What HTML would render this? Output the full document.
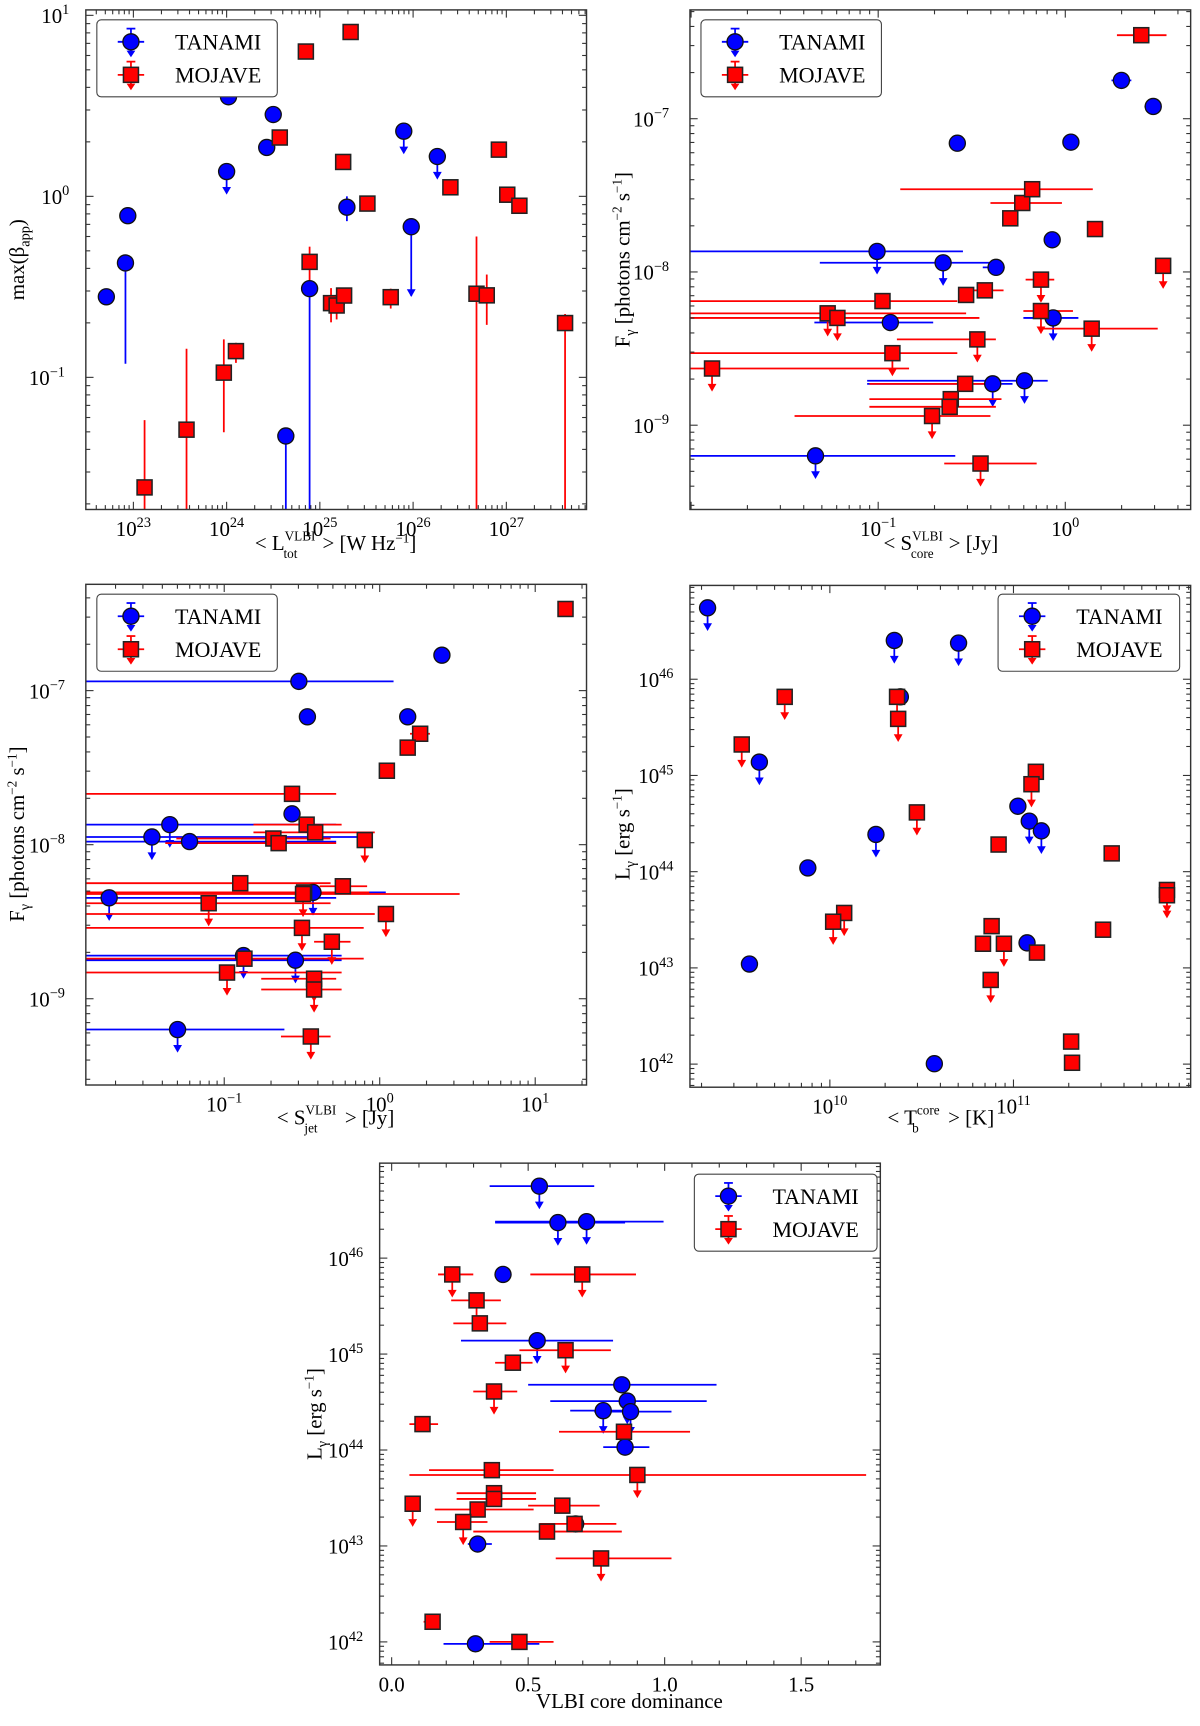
<!DOCTYPE html>
<html><head><meta charset="utf-8"><title>VLBI vs gamma-ray correlations</title>
<style>
html,body{margin:0;padding:0;background:#fff;}
svg{display:block;}
text{font-family:"Liberation Serif","DejaVu Serif",serif;fill:#000;}
</style></head>
<body>
<svg id="fig" xmlns="http://www.w3.org/2000/svg" width="1200" height="1726" viewBox="0 0 1090.5 1568.5"></svg>
<script>
// ===== Panel 1: max(beta_app) vs L_tot (log10 values) =====
const p1TanamiX = [22.71, 22.915, 22.94, 24.02, 24.0, 24.43, 24.50, 24.635, 24.89, 25.29, 25.90, 25.98, 26.26];
const p1TanamiY = [-0.555, -0.368, -0.107, 0.55, 0.137, 0.27, 0.452, -1.324, -0.51, -0.06, 0.36, -0.168, 0.22];
const p1TanamiUL = [0,0,0,0,1,0,0,0,0,0,1,1,1];
const p1TanamiYLo = [null, -0.925, null, null, null, null, null, -2.0, -2.0, -0.137, null, -0.55, null];
const p1TanamiYHi = [null, null, null, null, null, null, null, null, null, 0.0, null, null, null];
const p1MojaveX = [23.12, 23.57, 23.97, 24.10, 24.85, 24.57, 24.89, 25.12, 25.18, 25.26, 25.25, 25.33, 25.51, 25.76, 26.40, 26.92, 27.01, 27.14, 26.68, 26.79, 27.63];
const p1MojaveY = [-1.608, -1.289, -0.974, -0.855, 0.80, 0.325, -0.362, -0.59, -0.603, -0.548, 0.19, 0.908, -0.04, -0.557, 0.05, 0.258, 0.009, -0.052, -0.538, -0.547, -0.70];
const p1MojaveYLo = [-2.0, -2.0, -1.303, -0.92, null, null, -0.464, -0.696, -0.68, -0.60, null, null, null, -0.62, null, null, -0.02, null, -2.0, -0.71, -2.0];
const p1MojaveYHi = [-1.236, -0.842, -0.79, -0.809, null, null, -0.278, -0.507, -0.543, -0.523, null, null, null, -0.51, null, null, 0.03, null, -0.222, -0.432, -0.65];

// ===== Panel 2: F_gamma vs S_core (log10 values) =====
const p2TanamiX = [0.30, 0.47, -0.577, 0.03, -0.07, -0.37, -0.653, -1.006, -0.935, -0.065, -0.218, -0.388, -1.335];
const p2TanamiY = [-6.75, -6.92, -7.16, -7.153, -7.79, -7.97, -7.94, -7.866, -8.33, -8.30, -8.71, -8.73, -9.20];
const p2TanamiUL = [0,0,0,0,0,0,1,1,0,1,1,1,1];
const p2TanamiXLo = [0.247, 0.423, null, 0.0, null, -0.441, -1.312, -2.2, -1.341, -0.224, -1.059, -1.059, -2.2];
const p2TanamiXHi = [0.353, 0.512, null, 0.06, null, -0.324, -0.371, -0.547, -0.706, 0.07, -0.094, -0.282, -0.588];
const p2MojaveX = [0.406, -0.23, -0.294, -0.177, 0.159, 0.523, -0.13, -0.53, -0.43, -0.977, -1.27, -1.218, -0.13, 0.141, -0.47, -0.924, -1.888, -0.535, -0.612, -0.618, -0.712, -0.453];
const p2MojaveY = [-6.455, -7.55, -7.65, -7.46, -7.72, -7.96, -8.05, -8.15, -8.12, -8.19, -8.27, -8.30, -8.255, -8.37, -8.44, -8.53, -8.63, -8.73, -8.83, -8.88, -8.94, -9.25];
const p2MojaveUL = [0,0,0,0,0,1,1,0,0,0,1,1,1,1,1,1,1,0,0,0,1,1];
const p2MojaveXLo = [0.276, -0.40, null, -0.882, 0.12, null, -0.212, null, -0.518, -2.2, -2.2, -2.2, -0.224, -0.135, -0.90, -2.2, -2.2, -1.047, -1.047, -1.047, -1.447, -0.647];
const p2MojaveXHi = [0.541, -0.018, null, 0.147, 0.20, null, -0.059, null, -0.33, -0.577, -0.53, -0.459, 0.041, 0.494, -0.371, -0.577, -0.835, -0.341, -0.341, -0.371, -0.40, -0.153];

// ===== Panel 3: F_gamma vs S_jet (log10 values) =====
const p3TanamiX = [0.40, -0.52, -0.465, 0.18, -0.564, -1.35, -1.465, -1.223, -0.429, -1.74, -0.876, -0.542, -1.30];
const p3TanamiY = [-6.77, -6.94, -7.17, -7.17, -7.80, -7.87, -7.95, -7.98, -8.31, -8.345, -8.72, -8.75, -9.20];
const p3TanamiUL = [0,0,0,0,0,1,1,0,1,1,1,1,1];
const p3TanamiXLo = [null, -2.2, null, null, -0.60, -2.2, -2.2, -2.2, -1.202, -2.2, -2.2, -2.2, -2.2];
const p3TanamiXHi = [null, 0.089, null, null, -0.52, -0.28, -0.053, -0.28, 0.039, -0.28, -0.245, -0.245, -0.613];
const p3MojaveX = [1.195, 0.26, 0.18, 0.046, -0.564, -0.096, -0.47, -0.415, -0.684, -0.65, -0.486, -0.897, -1.10, -0.237, -0.493, 0.04, -0.50, -0.308, -0.87, -0.982, -0.422, -0.422, -0.443];
const p3MojaveY = [-6.47, -7.28, -7.37, -7.52, -7.67, -7.97, -7.87, -7.92, -7.96, -7.99, -8.31, -8.25, -8.38, -8.27, -8.32, -8.45, -8.54, -8.63, -8.74, -8.83, -8.87, -8.94, -9.245];
const p3MojaveUL = [0,0,0,0,0,1,0,0,0,0,0,0,1,0,1,1,1,1,0,1,1,1,1];
const p3MojaveXLo = [null, 0.195, null, null, -2.2, null, -0.812, -0.812, -1.308, -1.379, -2.2, -2.2, -2.2, -0.386, -2.2, -2.2, -2.2, -0.422, -2.2, -2.2, -0.762, -0.762, -0.635];
const p3MojaveXHi = [null, 0.323, null, null, -0.28, null, -0.245, -0.032, -0.316, -0.28, -0.067, -0.316, -0.316, -0.081, 0.514, -0.032, -0.103, -0.188, -0.103, -0.245, -0.28, -0.245, -0.316];

// ===== Panel 4: L_gamma vs T_b core (log10 values) =====
const p4TanamiX = [9.334, 10.351, 10.701, 10.384, 9.616, 11.024, 11.086, 11.152, 10.251, 9.88, 11.074, 9.562, 10.569];
const p4TanamiY = [46.742, 46.403, 46.376, 45.817, 45.139, 44.680, 44.525, 44.424, 44.387, 44.039, 43.26, 43.04, 42.004];
const p4TanamiUL = [1,1,1,0,1,0,1,1,1,0,0,0,0];
const p4MojaveX = [9.754, 10.366, 10.372, 9.52, 11.122, 11.098, 10.474, 10.919, 11.535, 10.078, 10.018, 10.881, 11.836, 11.836, 11.488, 10.834, 10.948, 11.128, 10.876, 11.314, 11.319];
const p4MojaveY = [45.817, 45.817, 45.588, 45.322, 45.038, 44.909, 44.616, 44.282, 44.19, 43.571, 43.48, 43.434, 43.81, 43.755, 43.397, 43.251, 43.251, 43.159, 42.875, 42.234, 42.014];
const p4MojaveUL = [1,1,1,1,0,1,1,0,0,1,1,0,1,1,0,0,1,0,1,0,0];

// ===== Panel 5: L_gamma vs VLBI core dominance (x linear, y log10) =====
const p5TanamiX = [0.541, 0.609, 0.714, 0.408, 0.533, 0.843, 0.863, 0.775, 0.875, 0.855, 0.674, 0.315, 0.307];
const p5TanamiY = [46.75, 46.37, 46.38, 45.83, 45.14, 44.68, 44.51, 44.41, 44.40, 44.03, 43.23, 43.02, 41.98];
const p5TanamiUL = [1,1,1,0,1,0,1,1,1,0,0,0,0];
const p5TanamiXLo = [0.359, 0.379, 0.379, null, 0.254, 0.50, 0.581, 0.654, 0.742, 0.775, null, 0.279, 0.19];
const p5TanamiXHi = [0.742, 0.855, 0.996, null, 0.811, 1.19, 1.154, 0.863, 1.025, 0.944, null, 0.367, 0.541];
const p5MojaveX = [0.222, 0.698, 0.311, 0.323, 0.637, 0.444, 0.375, 0.113, 0.851, 0.367, 0.90, 0.375, 0.375, 0.077, 0.625, 0.315, 0.262, 0.67, 0.569, 0.767, 0.150, 0.468];
const p5MojaveY = [45.83, 45.83, 45.56, 45.32, 45.04, 44.91, 44.61, 44.27, 44.19, 43.79, 43.74, 43.55, 43.49, 43.44, 43.42, 43.38, 43.25, 43.23, 43.15, 42.87, 42.21, 42.0];
const p5MojaveUL = [1,1,1,0,1,0,1,0,0,0,1,0,0,1,0,0,1,0,0,1,0,0];
const p5MojaveXLo = [0.17, 0.508, 0.218, 0.226, 0.468, 0.379, 0.299, 0.065, 0.613, 0.137, 0.065, 0.238, 0.238, null, 0.50, 0.158, 0.166, 0.541, 0.299, 0.601, 0.117, 0.359];
const p5MojaveXHi = [0.299, 0.895, 0.40, 0.42, 0.803, 0.516, 0.46, 0.17, 1.093, 0.593, 1.738, 0.529, 0.529, null, 0.762, 0.52, 0.351, 0.823, 0.843, 1.025, 0.178, 0.593];

const p5XTicks = [0.0, 0.5, 1.0, 1.5];
const p5XTickLabels = ["0.0", "0.5", "1.0", "1.5"];

const NS = 'http://www.w3.org/2000/svg';
const svg = document.getElementById('fig');
function mk(tag, attrs, parent) {
  const e = document.createElementNS(NS, tag);
  for (const k in attrs) e.setAttribute(k, attrs[k]);
  (parent || svg).appendChild(e);
  return e;
}
function fmtExp(n) { return (n < 0 ? '\u2212' + (-n) : '' + n); }

function makePanel(id, frame, xr, yr) {
  const [x0, y0, x1, y1] = frame;
  const g = mk('g', {});
  
  
  const sx = v => x0 + (v - xr[0]) / (xr[1] - xr[0]) * (x1 - x0);
  const sy = v => y1 - (v - yr[0]) / (yr[1] - yr[0]) * (y1 - y0);
  const clip = mk('clipPath', { id: id + '-clip' }, g);
  mk('rect', { x: x0, y: y0, width: x1 - x0, height: y1 - y0 }, clip);
  const plot = mk('g', { 'clip-path': 'url(#' + id + '-clip)' }, g);
  
  
  const marks = mk('g', {}, g);
  
  
  const frameRect = mk('rect', { x: x0, y: y0, width: x1 - x0, height: y1 - y0, fill: 'none', stroke: '#333', 'stroke-width': 1.3 }, g);
  
  
  return { g, plot, marks, sx, sy, frame, xr, yr };
}

function drawLogTicks(P, axis, labelled) {
  const [x0, y0, x1, y1] = P.frame;
  const r = axis === 'x' ? P.xr : P.yr;
  const eps = 0.02 * (r[1] - r[0]) / 5;
  const tg = mk('g', { stroke: '#333', 'stroke-width': 1 }, P.g);
  
  
  for (let d = Math.floor(r[0]); d <= Math.ceil(r[1]); d++) {
    for (let k = 1; k <= 9; k++) {
      const v = d + Math.log10(k);
      if (v < r[0] || v > r[1]) continue;
      const L = k === 1 ? 7 : 4;
      const showLabel = k === 1 && labelled && v > r[0] + eps && v < r[1] - eps;
      if (axis === 'x') {
        const x = P.sx(v);
        mk('line', { x1: x, x2: x, y1: y1, y2: y1 - L }, tg);
        mk('line', { x1: x, x2: x, y1: y0, y2: y0 + L }, tg);
        if (showLabel) {
          const t = mk('text', { x: x, y: y1 + 24, 'text-anchor': 'middle', 'font-size': 19 }, P.g);
          
          
          t.textContent = '10';
          const s = mk('tspan', { dy: -8, 'font-size': 13 }, t);
          s.textContent = fmtExp(d);
        }
      } else {
        const y = P.sy(v);
        mk('line', { x1: x0, x2: x0 + L, y1: y, y2: y }, tg);
        mk('line', { x1: x1, x2: x1 - L, y1: y, y2: y }, tg);
        if (showLabel) {
          const t = mk('text', { x: x0 - 5 - (d < 0 ? 14 : 10), y: y + 7, 'text-anchor': 'end', 'font-size': 19 }, P.g);
          
          
          t.textContent = '10';
          const s = mk('tspan', { dy: -8, 'font-size': 13 }, t);
          s.textContent = fmtExp(d);
        }
      }
    }
  }
}

function drawLinXTicks(P, ticks, labels) {
  const [x0, y0, x1, y1] = P.frame;
  const tg = mk('g', { stroke: '#333', 'stroke-width': 1 }, P.g);
  
  
  for (let i = 0; i <= 18; i++) {
    const v = i * 0.1;
    if (v < P.xr[0] || v > P.xr[1]) continue;
    const L = (i % 5 === 0) ? 7 : 4;
    const x = P.sx(v);
    mk('line', { x1: x, x2: x, y1: y1, y2: y1 - L }, tg);
    mk('line', { x1: x, x2: x, y1: y0, y2: y0 + L }, tg);
  }
  ticks.forEach((v, i) => {
    const t = mk('text', { x: P.sx(v), y: P.frame[3] + 24, 'text-anchor': 'middle', 'font-size': 19 }, P.g);
    
    
    t.textContent = labels[i];
  });
}

function series(P, name, X, Y, UL, xLo, xHi, yLo, yHi, color, shape) {
  X.forEach((xv, i) => {
    const px = P.sx(xv), py = P.sy(Y[i]);
    if (xLo && xLo[i] !== null) {
      const l = mk('line', { x1: P.sx(xLo[i]), x2: P.sx(xHi[i]), y1: py, y2: py, stroke: color, 'stroke-width': 1.6 }, P.plot);
      
      
    }
    let arrowEnd = null;
    if (yLo && yLo[i] !== null) {
      const lo = P.sy(yLo[i]);
      const hi = (yHi && yHi[i] !== null) ? P.sy(yHi[i]) : py;
      const l = mk('line', { x1: px, x2: px, y1: hi, y2: lo, stroke: color, 'stroke-width': 1.6 }, P.plot);
      
      
      if (UL && UL[i]) arrowEnd = lo;
    } else if (yHi && yHi[i] !== null) {
      const l = mk('line', { x1: px, x2: px, y1: P.sy(yHi[i]), y2: py, stroke: color, 'stroke-width': 1.6 }, P.plot);
      
      
    }
    if (UL && UL[i]) {
      if (arrowEnd === null) {
        arrowEnd = py + 20;
        const l = mk('line', { x1: px, x2: px, y1: py, y2: arrowEnd - 4, stroke: color, 'stroke-width': 1.6 }, P.plot);
        
        
      }
      const a = mk('polygon', { points: (px - 4) + ',' + (arrowEnd - 6) + ' ' + (px + 4) + ',' + (arrowEnd - 6) + ' ' + px + ',' + (arrowEnd + 1), fill: color }, P.plot);
      
      
    }
  });
  X.forEach((xv, i) => {
    const px = P.sx(xv), py = P.sy(Y[i]);
    let m;
    if (shape === 'circle') m = mk('circle', { cx: px, cy: py, r: 7.3, fill: color, stroke: '#111', 'stroke-width': 1.2 }, P.marks);
    else m = mk('rect', { x: px - 6.8, y: py - 6.8, width: 13.6, height: 13.6, fill: color, stroke: '#222', 'stroke-width': 1.4 }, P.marks);
    
    
  });
}

function legend(x, y, w, tag) {
  const g = mk('g', {});
  
  
  mk('rect', { x: x, y: y, width: w, height: 70, rx: 4, fill: '#fff', stroke: '#444', 'stroke-width': 1 }, g);
  const mx = x + 31;
  const e1 = mk('g', {}, g);
  
  
  mk('line', { x1: mx - 12, x2: mx + 12, y1: y + 20, y2: y + 20, stroke: '#0000ff', 'stroke-width': 1.6 }, e1);
  mk('line', { x1: mx, x2: mx, y1: y + 8, y2: y + 32, stroke: '#0000ff', 'stroke-width': 1.6 }, e1);
  mk('line', { x1: mx - 4, x2: mx + 4, y1: y + 8, y2: y + 8, stroke: '#0000ff', 'stroke-width': 1.6 }, e1);
  mk('polygon', { points: (mx - 4) + ',' + (y + 28) + ' ' + (mx + 4) + ',' + (y + 28) + ' ' + mx + ',' + (y + 34), fill: '#0000ff' }, e1);
  mk('circle', { cx: mx, cy: y + 20, r: 7.3, fill: '#0000ff', stroke: '#111', 'stroke-width': 1.2 }, e1);
  const t1 = mk('text', { x: x + 71, y: y + 27, 'font-size': 20 }, e1);
  t1.textContent = 'TANAMI';
  const e2 = mk('g', {}, g);
  
  
  mk('line', { x1: mx - 12, x2: mx + 12, y1: y + 50, y2: y + 50, stroke: '#ff0000', 'stroke-width': 1.6 }, e2);
  mk('line', { x1: mx, x2: mx, y1: y + 38, y2: y + 62, stroke: '#ff0000', 'stroke-width': 1.6 }, e2);
  mk('line', { x1: mx - 4, x2: mx + 4, y1: y + 38, y2: y + 38, stroke: '#ff0000', 'stroke-width': 1.6 }, e2);
  mk('polygon', { points: (mx - 4) + ',' + (y + 58) + ' ' + (mx + 4) + ',' + (y + 58) + ' ' + mx + ',' + (y + 64), fill: '#ff0000' }, e2);
  mk('rect', { x: mx - 6.8, y: y + 43.2, width: 13.6, height: 13.6, fill: '#ff0000', stroke: '#222', 'stroke-width': 1.4 }, e2);
  const t2 = mk('text', { x: x + 71, y: y + 57, 'font-size': 20 }, e2);
  t2.textContent = 'MOJAVE';
}

// parts: [text, dy, fontSize, dx]
function axisLabel(name, x, y, rot, parts) {
  const t = mk('text', { x: x, y: y, 'text-anchor': 'middle', 'font-size': 19, transform: rot ? 'rotate(-90 ' + x + ' ' + y + ')' : '' });
  
  
  parts.forEach(p => {
    const a = {};
    if (p[1]) a.dy = p[1];
    if (p[2]) a['font-size'] = p[2];
    if (p[3]) a.dx = p[3];
    const s = mk('tspan', a, t);
    s.textContent = p[0];
  });
}

// ---- Panel 1
const P1 = makePanel('panel-beta-vs-ltot', [78, 9, 533, 463], [22.49, 27.86], [-1.73, 1.03]);
drawLogTicks(P1, 'x', true); drawLogTicks(P1, 'y', true);
series(P1, 'tanami', p1TanamiX, p1TanamiY, p1TanamiUL, null, null, p1TanamiYLo, p1TanamiYHi, '#0000ff', 'circle');
series(P1, 'mojave', p1MojaveX, p1MojaveY, null, null, null, p1MojaveYLo, p1MojaveYHi, '#ff0000', 'square');
legend(88, 18, 164, 'panel1');
axisLabel('p1-y-axis-title', 22, 236, true, [['max(β'], ['app', 5, 13], [')', -5, 19]]);
axisLabel('p1-x-axis-title', 305, 500, false, [['< L'], ['VLBI', -9, 12], ['tot', 16, 12, -29], [' > [W Hz', -7, 19, 18], ['−1', -7, 12], [']', 7, 19]]);

// ---- Panel 2
const P2 = makePanel('panel-fgamma-vs-score', [627, 9, 1082, 463], [-2.006, 0.67], [-9.55, -6.29]);
drawLogTicks(P2, 'x', true); drawLogTicks(P2, 'y', true);
series(P2, 'tanami', p2TanamiX, p2TanamiY, p2TanamiUL, p2TanamiXLo, p2TanamiXHi, null, null, '#0000ff', 'circle');
series(P2, 'mojave', p2MojaveX, p2MojaveY, p2MojaveUL, p2MojaveXLo, p2MojaveXHi, null, null, '#ff0000', 'square');
legend(637, 18, 164, 'panel2');
axisLabel('p2-y-axis-title', 572, 236, true, [['F'], ['γ', 5, 13], [' [photons cm', -5, 19], ['−2', -7, 12], [' s', 7, 19], ['−1', -7, 12], [']', 7, 19]]);
axisLabel('p2-x-axis-title', 855, 500, false, [['< S'], ['VLBI', -9, 12], ['core', 16, 12, -29], [' > [Jy]', -7, 19, 9]]);

// ---- Panel 3
const P3 = makePanel('panel-fgamma-vs-sjet', [78, 531, 533, 986], [-1.89, 1.33], [-9.56, -6.31]);
drawLogTicks(P3, 'x', true); drawLogTicks(P3, 'y', true);
series(P3, 'tanami', p3TanamiX, p3TanamiY, p3TanamiUL, p3TanamiXLo, p3TanamiXHi, null, null, '#0000ff', 'circle');
series(P3, 'mojave', p3MojaveX, p3MojaveY, p3MojaveUL, p3MojaveXLo, p3MojaveXHi, null, null, '#ff0000', 'square');
legend(88, 540, 164, 'panel3');
axisLabel('p3-y-axis-title', 22, 758, true, [['F'], ['γ', 5, 13], [' [photons cm', -5, 19], ['−2', -7, 12], [' s', 7, 19], ['−1', -7, 12], [']', 7, 19]]);
axisLabel('p3-x-axis-title', 305, 1022, false, [['< S'], ['VLBI', -9, 12], ['jet', 16, 12, -29], [' > [Jy]', -7, 19, 20]]);

// ---- Panel 4
const P4 = makePanel('panel-lgamma-vs-tb', [627, 532, 1082, 988], [9.238, 11.965], [41.76, 46.975]);
drawLogTicks(P4, 'x', true); drawLogTicks(P4, 'y', true);
series(P4, 'tanami', p4TanamiX, p4TanamiY, p4TanamiUL, null, null, null, null, '#0000ff', 'circle');
series(P4, 'mojave', p4MojaveX, p4MojaveY, p4MojaveUL, null, null, null, null, '#ff0000', 'square');
legend(907, 540, 165, 'panel4');
axisLabel('p4-y-axis-title', 572, 758, true, [['L'], ['γ', 5, 13], [' [erg s', -5, 19], ['−1', -7, 12], [']', 7, 19]]);
axisLabel('p4-x-axis-title', 855, 1022, false, [['< T'], ['core', -9, 12], ['b', 16, 12, -25], [' > [K]', -7, 19, 22]]);

// ---- Panel 5
const P5 = makePanel('panel-lgamma-vs-core-dominance', [345, 1057, 800, 1513], [-0.044, 1.79], [41.76, 46.99]);
drawLinXTicks(P5, p5XTicks, p5XTickLabels); drawLogTicks(P5, 'y', true);
series(P5, 'tanami', p5TanamiX, p5TanamiY, p5TanamiUL, p5TanamiXLo, p5TanamiXHi, null, null, '#0000ff', 'circle');
series(P5, 'mojave', p5MojaveX, p5MojaveY, p5MojaveUL, p5MojaveXLo, p5MojaveXHi, null, null, '#ff0000', 'square');
legend(631, 1067, 166, 'panel5');
axisLabel('p5-y-axis-title', 292, 1285, true, [['L'], ['γ', 5, 13], [' [erg s', -5, 19], ['−1', -7, 12], [']', 7, 19]]);
axisLabel('p5-x-axis-title', 572, 1552, false, [['VLBI core dominance']]);
</script>
</body></html>
